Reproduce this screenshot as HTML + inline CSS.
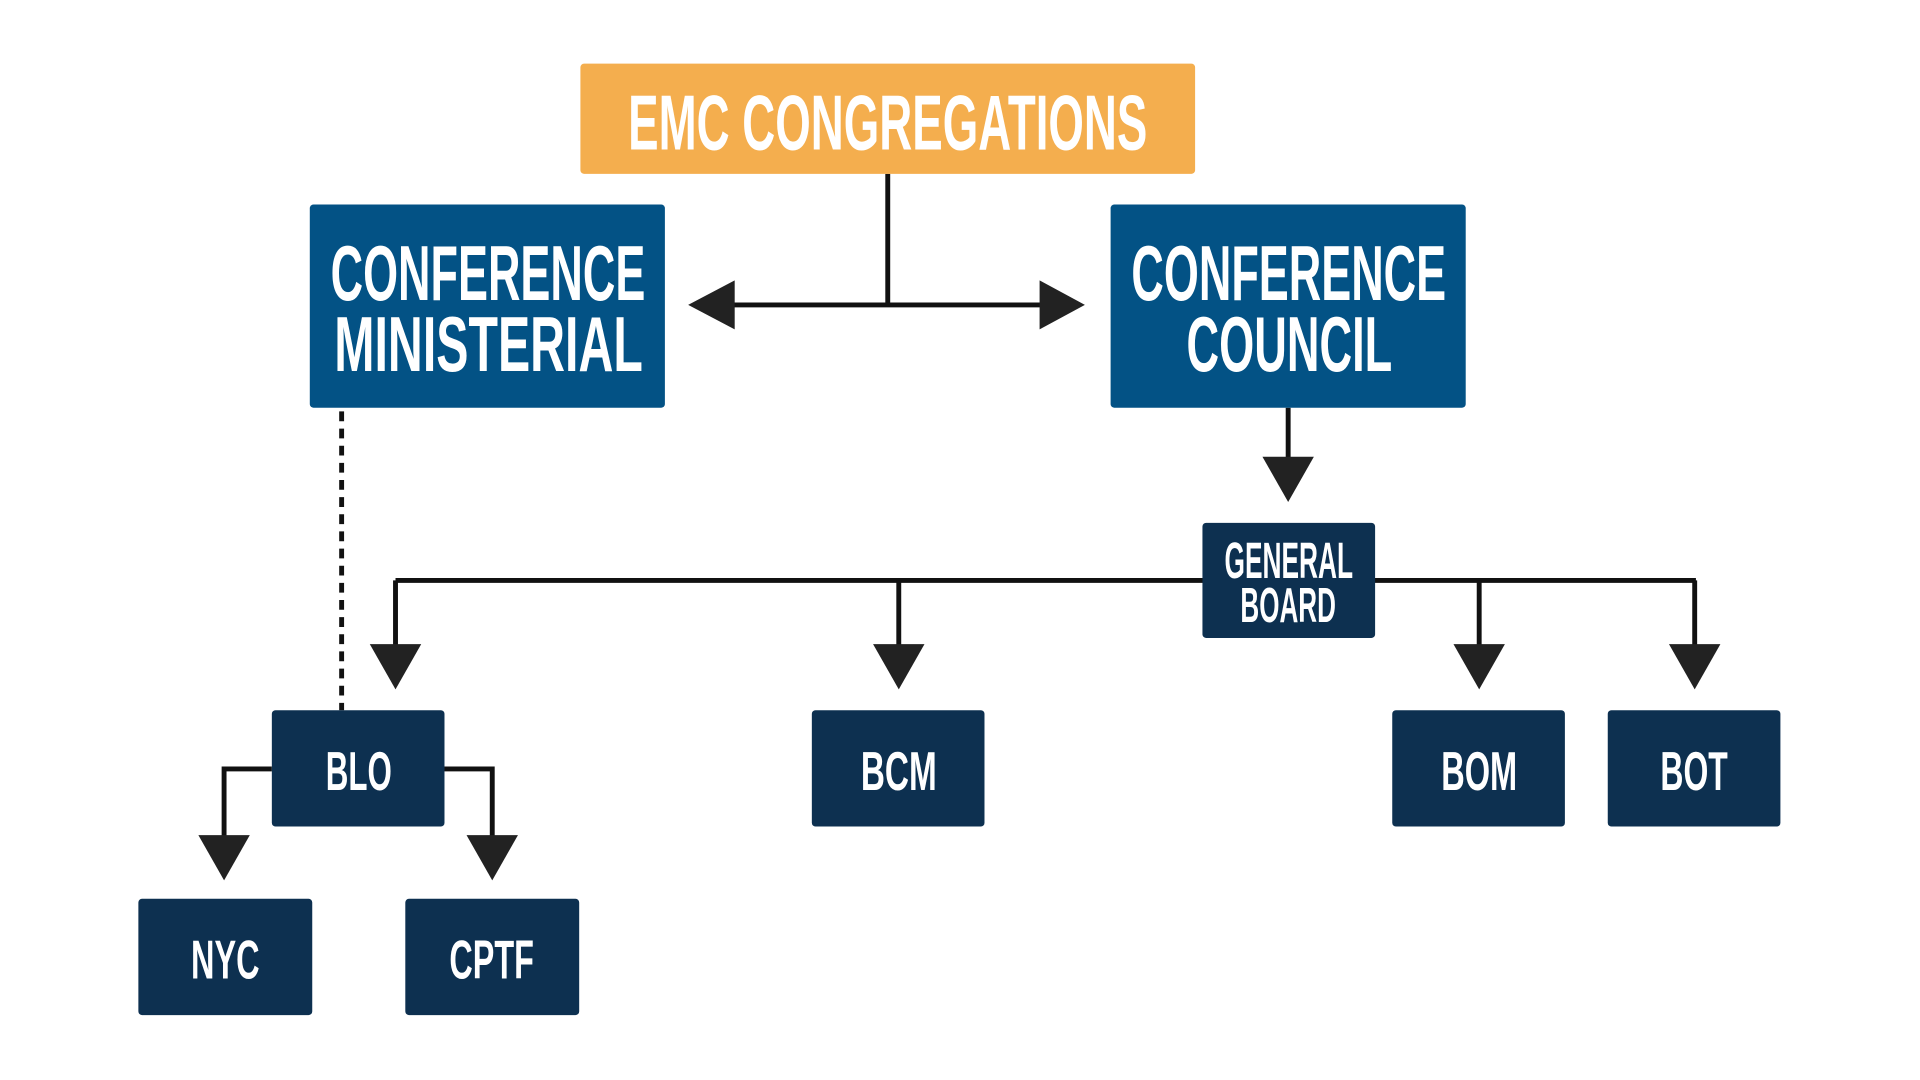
<!DOCTYPE html>
<html><head><meta charset="utf-8"><style>
html,body{margin:0;padding:0;background:#fff;}
svg{display:block;}
text{font-family:"Liberation Sans Narrow","Liberation Sans",sans-serif;font-weight:bold;fill:#fff;}
</style></head><body>
<svg width="1920" height="1080" viewBox="0 0 1568 882" preserveAspectRatio="none" xmlns="http://www.w3.org/2000/svg">
<rect width="1568" height="882" fill="#fff"/>
<g fill="none" stroke="#111" stroke-width="4">
<line x1="725" y1="142" x2="725" y2="249"/>
<line x1="598" y1="249" x2="852" y2="249"/>
<line x1="1052" y1="333" x2="1052" y2="375"/>
<line x1="323" y1="474" x2="1385" y2="474"/>
<line x1="323" y1="474" x2="323" y2="528"/>
<line x1="734" y1="474" x2="734" y2="528"/>
<line x1="1208" y1="474" x2="1208" y2="528"/>
<line x1="1384" y1="474" x2="1384" y2="528"/>
<polyline points="222,628 183,628 183,684"/>
<polyline points="363,628 402,628 402,684"/>
<line x1="279" y1="336" x2="279" y2="580" stroke-dasharray="8,6" stroke-width="4"/>
</g>
<g fill="#222">
<polygon points="562,249 600,229 600,269"/>
<polygon points="886,249 849,229 849,269"/>
<polygon points="1031,373 1073,373 1052,410"/>
<polygon points="302,526 344,526 323,563"/>
<polygon points="713,526 755,526 734,563"/>
<polygon points="1187,526 1229,526 1208,563"/>
<polygon points="1363,526 1405,526 1384,563"/>
<polygon points="162,682 204,682 183,719"/>
<polygon points="381,682 423,682 402,719"/>
</g>
<rect x="474" y="52" width="502" height="90" rx="3" fill="#F4AE4E"/>
<text x="513" y="122" font-size="64" textLength="424" lengthAdjust="spacingAndGlyphs">EMC CONGREGATIONS</text>
<rect x="253" y="167" width="290" height="166" rx="3" fill="#035285"/>
<text x="270" y="245" font-size="64" textLength="257" lengthAdjust="spacingAndGlyphs">CONFERENCE</text>
<text x="273" y="303" font-size="64" textLength="252" lengthAdjust="spacingAndGlyphs">MINISTERIAL</text>
<rect x="907" y="167" width="290" height="166" rx="3" fill="#035285"/>
<text x="924" y="245" font-size="64" textLength="257" lengthAdjust="spacingAndGlyphs">CONFERENCE</text>
<text x="969" y="303" font-size="64" textLength="168" lengthAdjust="spacingAndGlyphs">COUNCIL</text>
<g fill="#0D3050">
<rect x="982" y="427" width="141" height="94" rx="3"/>
<rect x="222" y="580" width="141" height="95" rx="3"/>
<rect x="663" y="580" width="141" height="95" rx="3"/>
<rect x="1137" y="580" width="141" height="95" rx="3"/>
<rect x="1313" y="580" width="141" height="95" rx="3"/>
<rect x="113" y="734" width="142" height="95" rx="3"/>
<rect x="331" y="734" width="142" height="95" rx="3"/>
</g>
<text x="1000" y="472" font-size="42" textLength="105" lengthAdjust="spacingAndGlyphs">GENERAL</text>
<text x="1013" y="508" font-size="40" textLength="78" lengthAdjust="spacingAndGlyphs">BOARD</text>
<text x="266" y="645" font-size="45" textLength="54" lengthAdjust="spacingAndGlyphs">BLO</text>
<text x="703" y="645" font-size="45" textLength="62" lengthAdjust="spacingAndGlyphs">BCM</text>
<text x="1177" y="645" font-size="45" textLength="62" lengthAdjust="spacingAndGlyphs">BOM</text>
<text x="1356" y="645" font-size="45" textLength="55" lengthAdjust="spacingAndGlyphs">BOT</text>
<text x="156" y="799" font-size="45" textLength="56" lengthAdjust="spacingAndGlyphs">NYC</text>
<text x="367" y="799" font-size="45" textLength="69" lengthAdjust="spacingAndGlyphs">CPTF</text>
</svg>
</body></html>
